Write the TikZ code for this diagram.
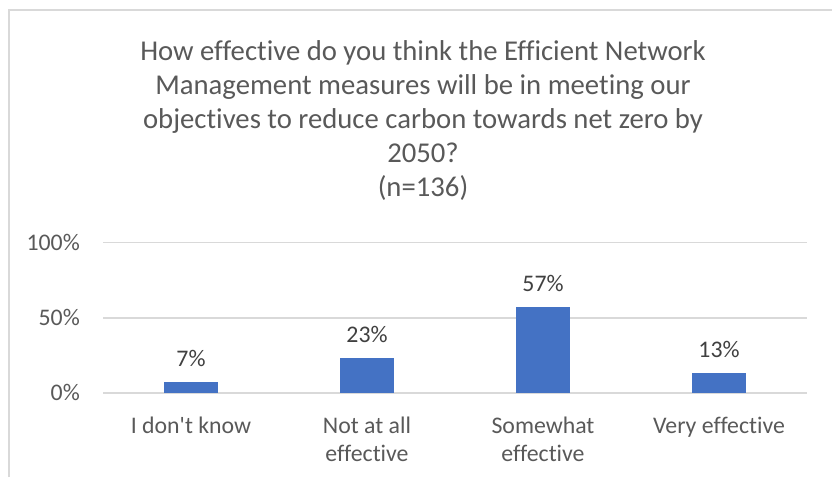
\documentclass[tikz,border=0pt]{standalone}
\usepackage{fontspec}
\setmainfont{Carlito}[Ligatures={NoCommon,NoRare,NoDiscretionary}]
\definecolor{barblue}{HTML}{4472C4}
\definecolor{gridgray}{HTML}{D9D9D9}
\definecolor{labelgray}{HTML}{595959}
\definecolor{valgray}{HTML}{404040}
\begin{document}
\begin{tikzpicture}[x={(1pt,0pt)},y={(0pt,-1pt)},
  titletext/.style={font=\fontsize{28.7}{34}\selectfont, text=labelgray, anchor=base, inner sep=0pt},
  ticklabel/.style={font=\fontsize{23.8}{28}\selectfont, text=labelgray, anchor=base east, inner sep=0pt},
  catlabel/.style={font=\fontsize{23.8}{28}\selectfont, text=labelgray, anchor=base, inner sep=0pt},
  vallabel/.style={font=\fontsize{23.8}{28}\selectfont, text=valgray, anchor=base, inner sep=0pt},
  gridline/.style={draw=gridgray, line width=1.5pt},
  chartbar/.style={fill=barblue, draw=none},
  frameline/.style={draw=gridgray, line width=1.5pt}]
\useasboundingbox (0,0) rectangle (832,477);
% frame
\coordinate (ftr) at (832,10);
\coordinate (ftl) at (9,10);
\coordinate (fbl) at (9,477);
\draw[frameline] (fbl) -- (ftl) -- (ftr);
% title
\node[titletext] (t1) at (423,60) {How effective do you think the Efficient Network};
\node[titletext] (t2) at (423,94) {Management measures will be in meeting our};
\node[titletext] (t3) at (423,128) {objectives to reduce carbon towards net zero by};
\node[titletext] (t4) at (423,162) {2050?};
\node[titletext] (t5) at (423,196) {(n=136)};
% gridlines
\foreach \p/\y in {0/393,50/317.8,100/242.5}{
  \coordinate (gl\p) at (103,\y);
  \coordinate (gr\p) at (807,\y);
  \draw[gridline] (gl\p) -- (gr\p);
  \node[ticklabel] (tick\p) at (80,\y+7.5) {\p\%};
}
% bars
\foreach \i/\cx/\v in {1/191/7,2/367/23,3/543/57,4/719/13}{
  \pgfmathsetmacro{\top}{393-\v*1.505}
  \fill[chartbar] (\cx-27,393) rectangle (\cx+27,\top);
  \node[vallabel] (val\i) at (\cx,\top-15.5) {\v\%};
}
% category labels
\node[catlabel] (c1) at (191,433) {I don\textquotesingle t know};
\node[catlabel] (c2a) at (367,433) {Not at all};
\node[catlabel] (c2b) at (367,461) {effective};
\node[catlabel] (c3a) at (543,433) {Somewhat};
\node[catlabel] (c3b) at (543,461) {effective};
\node[catlabel] (c4) at (719,433) {Very effective};
\end{tikzpicture}
\end{document}
